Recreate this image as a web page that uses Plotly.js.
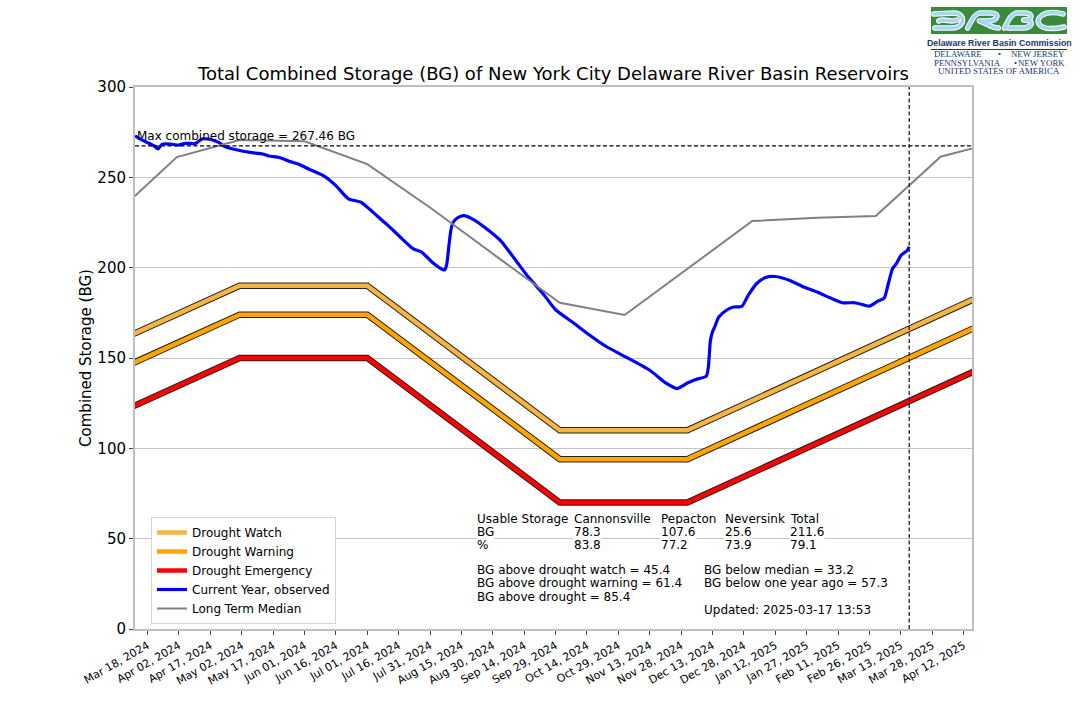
<!DOCTYPE html>
<html>
<head>
<meta charset="utf-8">
<script src="https://cdn.plot.ly/plotly-3.0.1.min.js"></script>
<style>html,body{margin:0;padding:0;background:#fff;}#chart{width:1080px;height:720px;}</style>
</head>
<body>
<div id="chart"></div>
<script>
// ---------- DATA ----------
const currentDates = ['2024-03-12','2024-03-16','2024-03-21','2024-03-23','2024-03-25','2024-03-29','2024-04-02','2024-04-05','2024-04-10','2024-04-13','2024-04-16','2024-04-19','2024-04-21','2024-04-24','2024-04-30','2024-05-06','2024-05-12','2024-05-15','2024-05-20','2024-05-25','2024-05-29','2024-06-03','2024-06-10','2024-06-16','2024-06-22','2024-06-28','2024-07-02','2024-07-06','2024-07-11','2024-07-16','2024-07-23','2024-07-27','2024-08-01','2024-08-06','2024-08-07','2024-08-08','2024-08-09','2024-08-10','2024-08-11','2024-08-13','2024-08-16','2024-08-21','2024-08-27','2024-09-03','2024-09-10','2024-09-16','2024-09-23','2024-09-29','2024-10-07','2024-10-15','2024-10-23','2024-10-31','2024-11-13','2024-11-21','2024-11-26','2024-12-01','2024-12-05','2024-12-10','2024-12-11','2024-12-12','2024-12-13','2024-12-14','2024-12-16','2024-12-20','2024-12-23','2024-12-27','2024-12-30','2025-01-03','2025-01-07','2025-01-12','2025-01-19','2025-01-25','2025-02-01','2025-02-07','2025-02-13','2025-02-19','2025-02-23','2025-02-26','2025-03-02','2025-03-05','2025-03-07','2025-03-09','2025-03-11','2025-03-13','2025-03-16','2025-03-17'];
const currentStorage = [273.0,270.3,267.5,265.7,268.4,268.4,267.9,268.8,268.8,271.2,271.2,270.3,269.3,267.0,265.1,263.8,262.9,261.8,261.0,258.8,257.4,254.6,250.9,245.4,238.1,236.2,232.5,228.3,223.3,217.8,210.4,208.6,203.0,199.0,198.8,202.0,212.0,221.0,225.0,227.5,228.8,226.5,221.5,214.6,204.0,194.8,185.6,176.7,169.9,162.9,156.5,151.5,143.2,135.9,133.1,136.2,138.1,139.9,145.0,159.8,164.5,167.1,172.7,176.7,178.2,178.6,184.6,191.1,194.4,195.1,192.9,189.6,186.5,183.4,180.6,180.6,179.5,178.7,181.5,183.1,191.1,199.4,202.5,206.7,209.5,211.6];

const medianDates = ['2024-03-01','2024-04-01','2024-05-01','2024-06-01','2024-07-01','2024-08-01','2024-09-01','2024-10-01','2024-11-01','2024-12-01','2025-01-01','2025-02-01','2025-03-01','2025-04-01','2025-05-01'];
const medianStorage = [228.0,261.2,270.6,270.0,257.3,232.5,206.0,180.6,173.8,199.4,225.8,227.6,228.6,261.4,270.6];

const droughtDates = ['2023-12-01','2024-05-01','2024-07-01','2024-10-01','2024-12-01','2025-05-01'];
const droughtWatch = [110,190,190,110,110,190];
const droughtWarning = [94,174,174,94,94,174];
const droughtEmergency = [70,150,150,70,70,150];

const maxStorage = 267.46;
const currentDate = '2025-03-17';
const xRange = ['2024-03-12','2025-04-16'];

const tableHeader = ['Usable Storage','Cannonsville','Pepacton','Neversink','Total'];
const tableBG = ['BG','78.3','107.6','25.6','211.6'];
const tablePct = ['%','83.8','77.2','73.9','79.1'];
const statsLeft = ['BG above drought watch = 45.4','BG above drought warning = 61.4','BG above drought = 85.4'];
const statsRight = ['BG below median = 33.2','BG below one year ago = 57.3'];
const updatedText = 'Updated: 2025-03-17 13:53';

// ---------- LAYOUT HELPERS ----------
const L = 135, R = 972, T = 87, B = 629;
const px = x => (x - L) / (R - L);
const py = y => (B - y) / (B - T);
const FONT = 'DejaVu Sans, sans-serif';

const colWatch = '#f6b540', colWarn = '#ffa500', colEmerg = '#ff0000';

function outline(y) {
  return {x: droughtDates, y: y, mode: 'lines', line: {color: '#222', width: 6.5}, showlegend: false, hoverinfo: 'skip'};
}
const traces = [
  outline(droughtWatch), outline(droughtWarning), outline(droughtEmergency),
  {x: droughtDates, y: droughtWatch, mode: 'lines', name: 'Drought Watch', line: {color: colWatch, width: 4.5}},
  {x: droughtDates, y: droughtWarning, mode: 'lines', name: 'Drought Warning', line: {color: colWarn, width: 4.5}},
  {x: droughtDates, y: droughtEmergency, mode: 'lines', name: 'Drought Emergency', line: {color: colEmerg, width: 4.5}},
  {x: currentDates, y: currentStorage, mode: 'lines', name: 'Current Year, observed', line: {color: '#0000ff', width: 3.2, shape: 'spline', smoothing: 0.6}},
  {x: medianDates, y: medianStorage, mode: 'lines', name: 'Long Term Median', line: {color: '#808080', width: 2}}
];

const annotations = [];
function txt(text, x, y, size, opts) {
  annotations.push(Object.assign({text: text, xref: 'paper', yref: 'paper', x: px(x), y: py(y), xanchor: 'left', yanchor: 'middle', showarrow: false,
    font: {family: FONT, size: size, color: '#000'}, bgcolor: 'rgba(255,255,255,1)', borderpad: 0}, opts || {}));
}
const colX = [476, 572.5, 659.5, 724, 789];
const rowY = [518.5, 531.5, 544.5];
[tableHeader, tableBG, tablePct].forEach((row, r) => row.forEach((t, c) => txt(t, colX[c], rowY[r], 12)));
const statY = [569.5, 583, 596.5];
statsLeft.forEach((t, i) => txt(t, 476, statY[i], 12));
statsRight.forEach((t, i) => txt(t, 703, statY[i], 12));
txt(updatedText, 703, 609.5, 12);

// Max storage label
annotations.push({text: 'Max combined storage = ' + maxStorage.toFixed(2) + ' BG', xref: 'x', yref: 'y', x: xRange[0], y: maxStorage,
  xanchor: 'left', yanchor: 'bottom', showarrow: false, xshift: 0, yshift: 1, font: {family: FONT, size: 12, color: '#000'}});

// Logo text
const navy = '#1d3570';
annotations.push({text: '<b>Delaware River Basin Commission</b>', xref: 'paper', yref: 'paper', x: px(999), y: py(43.5), xanchor: 'center', yanchor: 'middle', showarrow: false, font: {family: 'Liberation Sans, Arial, sans-serif', size: 8.8, color: navy}});
const serif = {family: 'Liberation Serif, serif', size: 8.8, color: navy};
[['DELAWARE', 932, 54.5, 'left'], ['•', 999, 54.5, 'center'], ['NEW JERSEY', 1067, 54.5, 'right'],
 ['PENNSYLVANIA', 932, 62.5, 'left'], ['•', 1015, 62.5, 'center'], ['NEW YORK', 1067, 62.5, 'right'],
 ['UNITED STATES OF AMERICA', 999, 70.5, 'center']].forEach(a => {
  annotations.push({text: a[0], xref: 'paper', yref: 'paper', x: px(a[1]), y: py(a[2]), xanchor: a[3], yanchor: 'middle', showarrow: false, font: serif});
});

const logoSvg = '<svg xmlns="http://www.w3.org/2000/svg" viewBox="0 0 141 27" preserveAspectRatio="none">' +
  '<rect width="141" height="27" fill="#3a8a3c"/>' +
  '<g fill="none" stroke="#ffffff" stroke-width="5.5" stroke-linecap="round" stroke-linejoin="round">' +
  '<path d="M3 7 L24 6 C36 6 36 21 22 21 L4 21 M8 14 C14 11 20 16 27 13"/>' +
  '<path d="M38 21 C42 14 44 8 50 6 L62 6 C72 6 70 14 58 14 L50 14 C58 16 62 21 70 21"/>' +
  '<path d="M76 21 C80 14 82 8 88 6 L98 6 C106 6 106 13 96 13 C108 13 106 21 94 21 L80 21"/>' +
  '<path d="M137 7 C116 2 108 12 112 17 C116 23 128 22 138 20"/></g>' +
  '<g fill="none" stroke="#a6d8f2" stroke-width="3.6" stroke-linecap="round" stroke-linejoin="round">' +
  '<path d="M3 7 L24 6 C36 6 36 21 22 21 L4 21 M8 14 C14 11 20 16 27 13"/>' +
  '<path d="M38 21 C42 14 44 8 50 6 L62 6 C72 6 70 14 58 14 L50 14 C58 16 62 21 70 21"/>' +
  '<path d="M76 21 C80 14 82 8 88 6 L98 6 C106 6 106 13 96 13 C108 13 106 21 94 21 L80 21"/>' +
  '<path d="M137 7 C116 2 108 12 112 17 C116 23 128 22 138 20"/></g></svg>';

const layout = {
  width: 1080, height: 720,
  margin: {l: L, r: 1080 - R, t: T, b: 720 - B, pad: 0},
  paper_bgcolor: '#fff', plot_bgcolor: '#fff',
  font: {family: FONT, color: '#000'},
  title: {text: 'Total Combined Storage (BG) of New York City Delaware River Basin Reservoirs', font: {family: FONT, size: 18, color: '#000'},
    x: (L + R) / 2 / 1080, xanchor: 'center', xref: 'container', y: 1 - 74 / 720, yanchor: 'middle', yref: 'container'},
  showlegend: true,
  legend: {x: px(151), y: py(517), xanchor: 'left', yanchor: 'top', bgcolor: '#fff', bordercolor: '#d4d4d4', borderwidth: 1,
    font: {family: FONT, size: 12, color: '#000'}, itemwidth: 30, tracegroupgap: 0},
  xaxis: {type: 'date', range: xRange, tickmode: 'linear', tick0: '2024-03-18', dtick: 15 * 86400000, tickformat: '%b %d, %Y',
    tickangle: -30, tickfont: {family: FONT, size: 11, color: '#000'}, showgrid: false, zeroline: false,
    showline: true, linecolor: '#bfbfbf', linewidth: 2, mirror: true, ticks: 'outside', ticklen: 4, tickcolor: '#444', tickwidth: 1},
  yaxis: {range: [0, 300], tickmode: 'array', tickvals: [0, 50, 100, 150, 200, 250, 300], tickfont: {family: FONT, size: 15, color: '#000'},
    showgrid: true, gridcolor: '#c4c4c4', gridwidth: 1, zeroline: false,
    showline: true, linecolor: '#bfbfbf', linewidth: 2, mirror: true, ticks: 'outside', ticklen: 4, tickcolor: '#444', tickwidth: 1,
    title: {text: 'Combined Storage (BG)', font: {family: FONT, size: 15, color: '#000'}, standoff: 2}},
  shapes: [
    {type: 'line', xref: 'paper', yref: 'y', x0: 0, x1: 1, y0: maxStorage, y1: maxStorage, line: {color: '#000', width: 1.3, dash: '4px,2.5px'}},
    {type: 'line', xref: 'x', yref: 'paper', x0: currentDate, x1: currentDate, y0: 0, y1: 1, line: {color: '#222', width: 1.3, dash: '4px,2.5px'}},
    {type: 'line', xref: 'paper', yref: 'paper', x0: px(931), x1: px(1067), y0: py(49.5), y1: py(49.5), line: {color: navy, width: 1}}
  ],
  images: [{source: 'data:image/svg+xml;utf8,' + encodeURIComponent(logoSvg), xref: 'paper', yref: 'paper',
    x: px(931), y: py(7), sizex: 136 / (R - L), sizey: 27 / (B - T), xanchor: 'left', yanchor: 'top', sizing: 'stretch', layer: 'above'}],
  annotations: annotations
};

Plotly.newPlot('chart', traces, layout, {displayModeBar: false, staticPlot: true});
</script>
</body>
</html>
